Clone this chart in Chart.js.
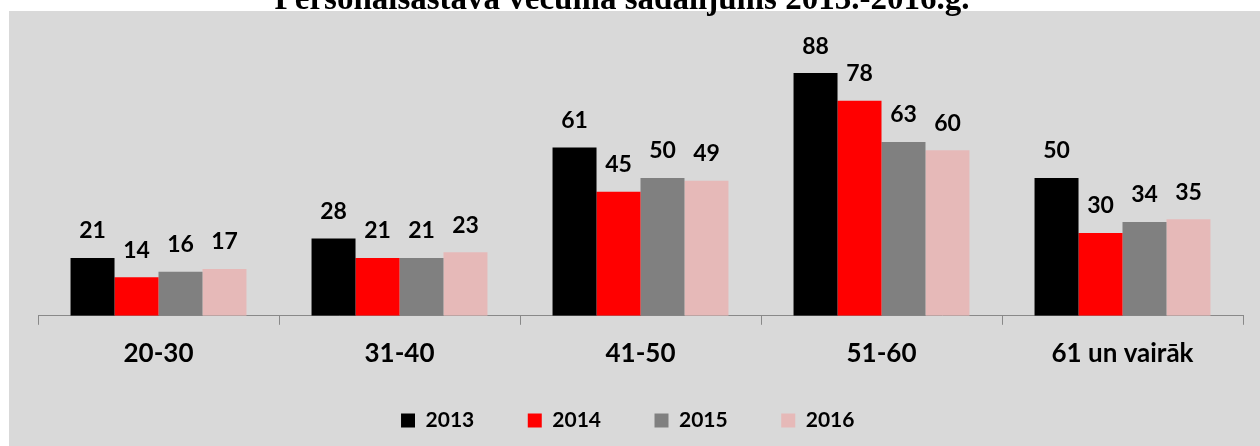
<!DOCTYPE html>
<html>
<head>
<meta charset="utf-8">
<script src="https://cdn.jsdelivr.net/npm/chart.js@4.4.0/dist/chart.umd.min.js"></script>
<style>
  html, body { margin: 0; padding: 0; background: #fff; }
  canvas { display: block; }
</style>
</head>
<body>
<canvas id="chart" width="1260" height="446"></canvas>
<script>
const title = 'Personālsastāva vecuma sadalījums 2013.-2016.g.';
const categories = ['20-30', '31-40', '41-50', '51-60', '61 un vairāk'];
const years = ['2013', '2014', '2015', '2016'];
const v2013 = [21, 28, 61, 88, 50];
const v2014 = [14, 21, 45, 78, 30];
const v2015 = [16, 21, 50, 63, 34];
const v2016 = [17, 23, 49, 60, 35];
const colors = ['#000000', '#ff0000', '#808080', '#e6b9b8'];

Chart.defaults.font.family = 'Lato';

// grey panel + clipped title
const backdrop = {
    id: 'backdrop',
    beforeDraw(chart) {
        const ctx = chart.ctx;
        ctx.save();
        ctx.fillStyle = '#d9d9d9';
        ctx.fillRect(9, 11, chart.width - 9, chart.height - 11);
        ctx.fillStyle = '#000';
        ctx.font = 'bold 33px "Liberation Serif"';
        ctx.textAlign = 'center';
        ctx.textBaseline = 'alphabetic';
        ctx.fillText(title, 622, 9);
        ctx.restore();
    }
};

// value labels above bars
const valueLabels = {
    id: 'valueLabels',
    afterDatasetsDraw(chart) {
        const ctx = chart.ctx;
        ctx.save();
        ctx.fillStyle = '#000';
        ctx.font = 'bold 23px Lato';
        ctx.textAlign = 'center';
        ctx.textBaseline = 'middle';
        chart.data.datasets.forEach((ds, i) => {
            chart.getDatasetMeta(i).data.forEach((bar, j) => {
                ctx.fillText(ds.data[j], bar.x, bar.y - 27);
            });
        });
        ctx.restore();
    }
};

const ctx = document.getElementById('chart').getContext('2d');
new Chart(ctx, {
    type: 'bar',
    data: {
        labels: categories,
        datasets: [v2013, v2014, v2015, v2016].map((d, i) => ({
            label: years[i],
            data: d,
            backgroundColor: colors[i],
            categoryPercentage: 0.73,
            barPercentage: 1.0,
        })),
    },
    options: {
        responsive: false,
        animation: false,
        layout: { padding: { top: 40, left: 38, right: 17, bottom: 5 } },
        scales: {
            x: {
                grid: { offset: true, drawOnChartArea: false, tickLength: 9, color: '#898989', lineWidth: 1 },
                border: { color: '#898989', width: 1 },
                ticks: { color: '#000', padding: 13, font: { size: 26, weight: 'bold' } },
            },
            y: { display: false, min: 0, max: 100 },
        },
        plugins: {
            legend: {
                position: 'bottom',
                labels: {
                    color: '#000',
                    boxWidth: 14,
                    boxHeight: 14,
                    padding: 28,
                    font: { size: 21, weight: 'bold' },
                    generateLabels(chart) {
                        // trailing spaces widen the gap between legend items
                        return Chart.defaults.plugins.legend.labels.generateLabels(chart)
                            .map(item => ({ ...item, text: item.text + '     ' }));
                    },
                },
            },
            tooltip: { enabled: false },
        },
    },
    plugins: [backdrop, valueLabels],
});
</script>
</body>
</html>
